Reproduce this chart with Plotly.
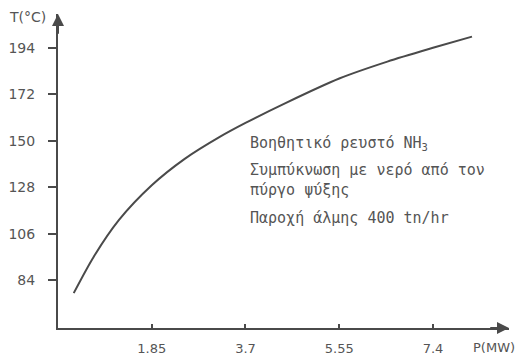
import plotly.graph_objects as go

# Power (MW) vs temperature (°C)
power_mw = [0.31, 0.70, 1.20, 1.85, 2.50, 3.20, 3.70, 4.50, 5.55, 6.50, 7.40, 8.17]
temp_c = [78.0, 95.0, 112.5, 129.0, 141.5, 152.0, 158.5, 168.0, 179.5, 187.5, 194.0, 199.3]

x_ticks = [1.85, 3.7, 5.55, 7.4]
x_tick_labels = ["1.85", "3.7", "5.55", "7.4"]
y_ticks = [84, 106, 128, 150, 172, 194]
y_tick_labels = ["84", "106", "128", "150", "172", "194"]

note_blocks = [
    "Βοηθητικό ρευστό NH<sub>3</sub>",
    "Συμπύκνωση με νερό από τον<br>πύργο ψύξης",
    "Παροχή άλμης 400 tn/hr",
]
note_y = [148.8, 131.3, 113.3]

X_MAX = 8.9
Y_MIN, Y_MAX = 61.5, 210

W, H = 526, 358
L, T, B = 58, 14, 30
R = W - L - int(round(X_MAX * 50.65))

ink = "#4a4a4a"
txt = "#555555"

fig = go.Figure()
fig.add_trace(go.Scatter(
    x=power_mw, y=temp_c, mode="lines",
    line=dict(color=ink, width=2, shape="spline", smoothing=0.8),
    hoverinfo="skip", showlegend=False,
))

fig.update_xaxes(
    range=[0, X_MAX], showgrid=False, zeroline=False, automargin=False,
    showline=True, linecolor=ink, linewidth=2,
    tickvals=x_ticks, ticktext=x_tick_labels,
    ticks="inside", ticklen=4, tickwidth=1.5, tickcolor=ink,
    ticklabelstandoff=7,
    tickfont=dict(family="DejaVu Sans", size=13, color=txt),
)
fig.update_yaxes(
    range=[Y_MIN, Y_MAX], showgrid=False, zeroline=False, automargin=False,
    showline=True, linecolor=ink, linewidth=2,
    tickvals=y_ticks, ticktext=y_tick_labels,
    ticks="outside", ticklen=8, tickwidth=1.5, tickcolor=ink,
    ticklabelstandoff=10,
    tickfont=dict(family="DejaVu Sans", size=14, color=txt),
)

# Arrow heads on both axes
fig.add_annotation(x=0, y=Y_MAX, ax=0, ay=Y_MAX - 10, xref="x", yref="y",
                   axref="x", ayref="y", showarrow=True, arrowhead=2,
                   arrowsize=1.2, arrowwidth=2, arrowcolor=ink, text="")
fig.add_annotation(x=X_MAX, y=Y_MIN, ax=X_MAX - 0.4, ay=Y_MIN, xref="x", yref="y",
                   axref="x", ayref="y", showarrow=True, arrowhead=2,
                   arrowsize=1.2, arrowwidth=2, arrowcolor=ink, text="")

pw = W - L - R
ph = H - T - B


def to_paper(px, py):
    return (px - L) / pw, 1 - (py - T) / ph


# Axis titles
tx, ty = to_paper(7, 17)
fig.add_annotation(x=tx, y=ty, xref="paper", yref="paper", xanchor="left",
                   yanchor="middle", showarrow=False, text="T(°C)",
                   font=dict(family="DejaVu Sans", size=14, color=txt))
px_, py_ = to_paper(471, 347)
fig.add_annotation(x=px_, y=py_, xref="paper", yref="paper", xanchor="left",
                   yanchor="middle", showarrow=False, text="P(MW)",
                   font=dict(family="DejaVu Sans", size=13, color=txt))

# Descriptive note inside the plot area
for block, yv in zip(note_blocks, note_y):
    fig.add_annotation(x=3.75, y=yv, xref="x", yref="y", xanchor="left",
                       yanchor="middle", align="left", showarrow=False, text=block,
                       font=dict(family="DejaVu Sans Mono", size=15, color=txt))

fig.update_layout(
    width=W, height=H,
    margin=dict(l=L, r=R, t=T, b=B),
    paper_bgcolor="white", plot_bgcolor="white",
)

fig.write_html("out.html")
